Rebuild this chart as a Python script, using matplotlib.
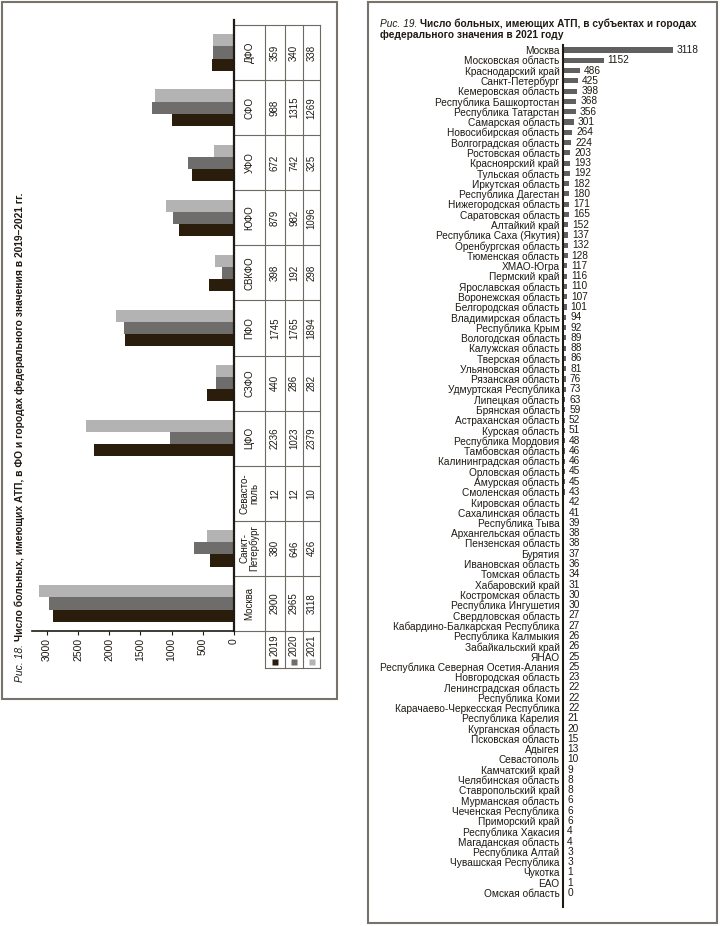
import numpy as np
import matplotlib
matplotlib.use('Agg')
import matplotlib.pyplot as plt
from matplotlib.patches import Rectangle
from matplotlib.lines import Line2D

# Data: Fig. 18 (federal districts and federal cities, 2019-2021)
fo_names = ['Москва', 'Санкт-\nПетербург', 'Севасто-\nполь', 'ЦФО', 'СЗФО', 'ПФО',
            'СВКФО', 'ЮФО', 'УФО', 'СФО', 'ДФО']
years = ['2019', '2020', '2021']
v2019 = [2900, 380, 12, 2236, 440, 1745, 398, 879, 672, 988, 359]
v2020 = [2965, 646, 12, 1023, 286, 1765, 192, 982, 742, 1315, 340]
v2021 = [3118, 426, 10, 2379, 282, 1894, 298, 1096, 325, 1269, 338]
fo_ticks = [0, 500, 1000, 1500, 2000, 2500, 3000]

# Data: Fig. 19 (regions, 2021)
regions = [
    'Москва', 'Московская область', 'Краснодарский край', 'Санкт-Петербург',
    'Кемеровская область', 'Республика Башкортостан', 'Республика Татарстан',
    'Самарская область', 'Новосибирская область', 'Волгоградская область',
    'Ростовская область', 'Красноярский край', 'Тульская область', 'Иркутская область',
    'Республика Дагестан', 'Нижегородская область', 'Саратовская область', 'Алтайкий край',
    'Республика Саха (Якутия)', 'Оренбургская область', 'Тюменская область', 'ХМАО-Югра',
    'Пермский край', 'Ярославская область', 'Воронежская область', 'Белгородская область',
    'Владимирская область', 'Республика Крым', 'Вологодская область', 'Калужская область',
    'Тверская область', 'Ульяновская область', 'Рязанская область', 'Удмуртская Республика',
    'Липецкая область', 'Брянская область', 'Астраханская область', 'Курская область',
    'Республика Мордовия', 'Тамбовская область', 'Калининградская область',
    'Орловская область', 'Амурская область', 'Смоленская область', 'Кировская область',
    'Сахалинская область', 'Республика Тыва', 'Архангельская область', 'Пензенская область',
    'Бурятия', 'Ивановская область', 'Томская область', 'Хабаровский край',
    'Костромская область', 'Республика Ингушетия', 'Свердловская область',
    'Кабардино-Балкарская Республика', 'Республика Калмыкия', 'Забайкальский край', 'ЯНАО',
    'Республика Северная Осетия-Алания', 'Новгородская область', 'Ленинсградская область',
    'Республика Коми', 'Карачаево-Черкесская Республика', 'Республика Карелия',
    'Курганская область', 'Псковская область', 'Адыгея', 'Севастополь', 'Камчатский край',
    'Челябинская область', 'Ставропольский край', 'Мурманская область',
    'Чеченская Республика', 'Приморский край', 'Республика Хакасия', 'Магаданская область',
    'Республика Алтай', 'Чувашская Республика', 'Чукотка', 'ЕАО', 'Омская область']
counts = [3118, 1152, 486, 425, 398, 368, 356, 301, 264, 224, 203, 193, 192, 182, 180,
          171, 165, 152, 137, 132, 128, 117, 116, 110, 107, 101, 94, 92, 89, 88, 86, 81,
          76, 73, 63, 59, 52, 51, 48, 46, 46, 45, 45, 43, 42, 41, 39, 38, 38, 37, 36, 34,
          31, 30, 30, 27, 27, 26, 26, 25, 25, 23, 22, 22, 22, 21, 20, 15, 13, 10, 9, 8, 8,
          6, 6, 6, 4, 4, 3, 3, 1, 1, 0]

# Styles
W, H = 720, 926
ink = '#1f1a14'
border = '#77736a'
grid_c = '#6e6a62'
year_colors = ['#2a1d0c', '#6f6d6b', '#b3b3b3']
bar_gray = '#606060'

plt.rcParams['font.family'] = ['Liberation Sans', 'DejaVu Sans']
plt.rcParams['text.color'] = ink

fig = plt.figure(figsize=(W / 100, H / 100), dpi=100)


def px_axes(x0, y0, x1, y1):
    return fig.add_axes([x0 / W, 1 - y1 / H, (x1 - x0) / W, (y1 - y0) / H])


def fx(x):
    return x / W


def fy(y):
    return 1 - y / H


# panel frames
fig.add_artist(Rectangle((fx(2), fy(699)), 335 / W, 697 / H, transform=fig.transFigure,
                         fill=False, ec=border, lw=1.5))
fig.add_artist(Rectangle((fx(368), fy(923)), 349 / W, 921 / H, transform=fig.transFigure,
                         fill=False, ec=border, lw=1.5))

# ---------- Fig. 18 (drawn rotated) ----------
ax1 = px_axes(32, 25, 234, 631)
yy = np.arange(len(fo_names))
bh = 0.22
for k, vals in enumerate([v2019, v2020, v2021]):
    ax1.barh(yy + (k - 1) * bh, vals, height=bh, color=year_colors[k], edgecolor='none')
ax1.set_xlim(3237, 0)
ax1.set_ylim(-0.5, 10.5)
for s in ['top', 'left', 'right']:
    ax1.spines[s].set_visible(False)
ax1.spines['bottom'].set_color(ink)
ax1.spines['bottom'].set_linewidth(1.2)
ax1.set_yticks([])
ax1.set_xticks(fo_ticks, [str(t) for t in fo_ticks])
ax1.tick_params(axis='x', labelrotation=90, labelsize=7.5, length=3, width=0.8, pad=2,
                colors=ink)
ax1.set_facecolor('none')
fig.add_artist(Line2D([fx(234)] * 2, [fy(20), fy(631)], transform=fig.transFigure,
                      color=ink, lw=1.6))

# table under the (rotated) chart
row_px = 606 / len(fo_names)
leg_h = 37 / row_px
col_w = [31, 20, 18, 17]
edges = np.cumsum([0] + col_w)
axt = px_axes(234, 25, 320, 668)
axt.axis('off')
axt.set_xlim(0, edges[-1])
axt.set_ylim(-0.5 - leg_h, len(fo_names) - 0.5)
lkw = dict(color=grid_c, lw=0.8, clip_on=False)
for b in np.arange(-0.5, len(fo_names)):
    axt.plot([0, edges[-1]], [b, b], **lkw)
axt.plot([edges[1], edges[-1]], [-0.5 - leg_h] * 2, **lkw)
for e in edges[1:]:
    axt.plot([e, e], [-0.5 - leg_h, len(fo_names) - 0.5], **lkw)
centers = (edges[:-1] + edges[1:]) / 2
for i, name in enumerate(fo_names):
    axt.text(centers[0], i, name, rotation=90, ha='center', va='center', fontsize=7,
             linespacing=0.95)
    for k, vals in enumerate([v2019, v2020, v2021]):
        axt.text(centers[k + 1], i, str(vals[i]), rotation=90, ha='center', va='center',
                 fontsize=7)
for k, yr in enumerate(years):
    axt.text(centers[k + 1], -0.5 - 25 / row_px, yr, rotation=90, ha='center', va='bottom',
             fontsize=7)
    axt.plot(centers[k + 1], -0.5 - 31 / row_px, marker='s', ms=4.5, color=year_colors[k],
             mec='none', clip_on=False)

# rotated title
renderer = fig.canvas.get_renderer()
t1 = fig.text(fx(20), fy(682), 'Рис. 18.', rotation=90, rotation_mode='anchor',
              ha='left', va='center', fontsize=7.5, style='italic')
h1 = t1.get_window_extent(renderer).height
fig.text(fx(20), fy(682 - h1 - 3), 'Число больных, имеющих АТП, в ФО и городах '
         'федерального значения в 2019–2021 гг.', rotation=90, rotation_mode='anchor',
         ha='left', va='center', fontsize=7.4, fontweight='bold')

# ---------- Fig. 19 ----------
pitch = (893 - 50) / (len(regions) - 1)
axr = px_axes(563, 45, 712, 907)
yr_pos = np.arange(len(regions))
axr.barh(yr_pos, counts, height=0.5, color=bar_gray, edgecolor='none')
axr.set_ylim(len(regions) - 1 + 14 / pitch, -5 / pitch)
axr.set_xlim(0, (712 - 563) / 0.0352)
for s in ['top', 'right', 'bottom']:
    axr.spines[s].set_visible(False)
axr.spines['left'].set_color(ink)
axr.spines['left'].set_linewidth(1.5)
axr.set_xticks([])
axr.set_yticks(yr_pos, regions)
axr.tick_params(axis='y', length=0, pad=2.5, labelsize=7.3, labelcolor=ink)
for i, v in enumerate(counts):
    axr.annotate(str(v), (v, i), xytext=(3, 0), textcoords='offset points',
                 ha='left', va='center', fontsize=7.3)

t2 = fig.text(fx(380), fy(24), 'Рис. 19.', ha='left', va='center', fontsize=7.3,
              style='italic')
w2 = t2.get_window_extent(renderer).width
fig.text(fx(380 + w2 + 3), fy(24), 'Число больных, имеющих АТП, в субъектах и городах',
         ha='left', va='center', fontsize=7.3, fontweight='bold')
fig.text(fx(380), fy(35), 'федерального значения в 2021 году', ha='left', va='center',
         fontsize=7.3, fontweight='bold')

fig.savefig('out.png', dpi=100)
